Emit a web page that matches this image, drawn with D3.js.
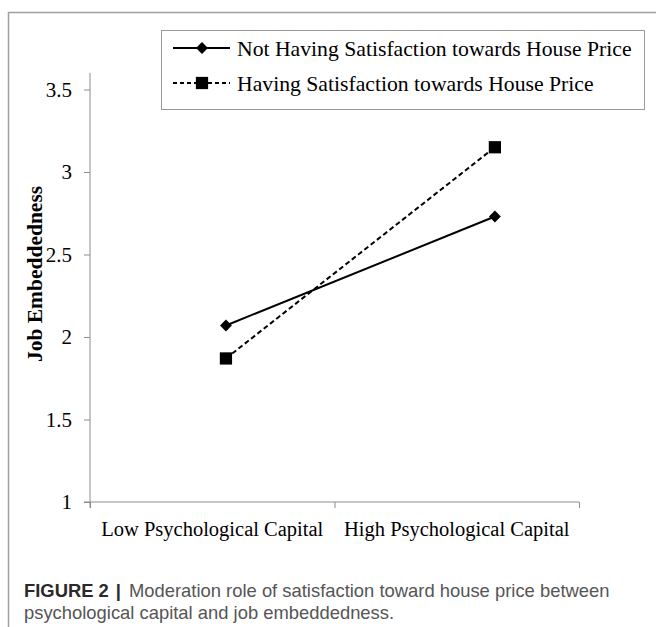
<!DOCTYPE html>
<html><head><meta charset="utf-8">
<script src="https://cdn.jsdelivr.net/npm/d3@7"></script>
<style>body{margin:0;background:#fff}svg{display:block}</style>
</head><body>
<svg id="c" width="656" height="627"></svg>
<script>
const categories = ["Low Psychological Capital", "High Psychological Capital"];
const pointX = [0.556, 1.656];          // x position of plotted points (category units)
const seriesNames = ["Not Having Satisfaction towards House Price", "Having Satisfaction towards House Price"];
const notSatisfied = [2.07, 2.73];
const satisfied = [1.87, 3.15];
const yTicks = [1, 1.5, 2, 2.5, 3, 3.5];
const yTickLabels = ["1", "1.5", "2", "2.5", "3", "3.5"];
const yTitle = "Job Embeddedness";
const captionBold = "FIGURE 2";
const captionLines = ["Moderation role of satisfaction toward house price between", "psychological capital and job embeddedness."];

const svg = d3.select("#c");
const serif = "'Liberation Serif','Times New Roman',serif";
const sans = "'Liberation Sans',Arial,sans-serif";
const axisColor = "#8c8c8c";

// frame
svg.append("path").attr("d", "M8.5,627 V12.5 H656").attr("fill", "none").attr("stroke", "#a0a0a0").attr("stroke-width", 1.5);

const x = d3.scaleLinear().domain([0, 2]).range([90, 579]);
const y = d3.scaleLinear().domain([1, 3.5]).range([502, 89.5]);

// y axis
const yAxis = d3.axisLeft(y).tickValues(yTicks).tickFormat((d, i) => yTickLabels[i]).tickSize(6).tickPadding(12);
const gy = svg.append("g").attr("transform", "translate(90,0)").call(yAxis);
gy.select(".domain").remove();
gy.append("line").attr("x1", 0).attr("x2", 0).attr("y1", y(3.6)).attr("y2", y(1) + 6).attr("stroke", axisColor);
gy.selectAll(".tick line").attr("stroke", axisColor);
gy.selectAll(".tick text").attr("font-family", serif).attr("font-size", 21).attr("fill", "#000");

// x axis
const xAxis = d3.axisBottom(x).tickValues([0, 1, 2]).tickFormat("").tickSize(6);
const gx = svg.append("g").attr("transform", "translate(0,502)").call(xAxis);
gx.select(".domain").remove();
gx.append("line").attr("x1", x(0) - 6).attr("x2", x(2)).attr("y1", 0).attr("y2", 0).attr("stroke", axisColor);
gx.selectAll(".tick line").attr("stroke", axisColor);
gx.selectAll(".cat").data(categories).enter().append("text")
  .attr("x", (d, i) => x(i + 0.5)).attr("y", 34).attr("text-anchor", "middle")
  .attr("font-family", serif).attr("font-size", 20.5).attr("fill", "#000").text(d => d);

// y title
svg.append("text").attr("transform", `translate(42,274) rotate(-90)`).attr("text-anchor", "middle")
  .attr("font-family", serif).attr("font-weight", "bold").attr("font-size", 21.5).text(yTitle);

const line = d3.line().x((d, i) => x(pointX[i])).y(d => y(d));
const diamond = d3.symbol().type(d3.symbolDiamond2).size(90);
const square = d3.symbol().type(d3.symbolSquare).size(150);

svg.append("path").datum(notSatisfied).attr("d", line).attr("fill", "none").attr("stroke", "#000").attr("stroke-width", 2);
svg.append("path").datum(satisfied).attr("d", line).attr("fill", "none").attr("stroke", "#000").attr("stroke-width", 2).attr("stroke-dasharray", "5,3");
svg.selectAll(".m1").data(notSatisfied).enter().append("path")
  .attr("transform", (d, i) => `translate(${x(pointX[i])},${y(d)})`).attr("d", diamond).attr("fill", "#000");
svg.selectAll(".m2").data(satisfied).enter().append("path")
  .attr("transform", (d, i) => `translate(${x(pointX[i])},${y(d)})`).attr("d", square).attr("fill", "#000");

// legend
const lg = svg.append("g");
lg.append("rect").attr("x", 161.5).attr("y", 30.5).attr("width", 483).attr("height", 79).attr("fill", "#fff").attr("stroke", "#999");
const ly = [48, 83];
seriesNames.forEach((name, i) => {
  lg.append("line").attr("x1", 173).attr("x2", 230).attr("y1", ly[i]).attr("y2", ly[i])
    .attr("stroke", "#000").attr("stroke-width", 2).attr("stroke-dasharray", i ? "4,3" : null);
  lg.append("path").attr("transform", `translate(202,${ly[i]})`).attr("d", i ? square : diamond).attr("fill", "#000");
  lg.append("text").attr("x", 237).attr("y", ly[i]).attr("dy", "0.35em")
    .attr("font-family", serif).attr("font-size", 21.7).text(name);
});

// caption
const cap = svg.append("text").attr("x", 24).attr("y", 597).attr("font-family", sans).attr("font-size", 18.4).attr("fill", "#555");
cap.append("tspan").attr("font-weight", "bold").attr("fill", "#2a2a2a").text(captionBold);
cap.append("tspan").attr("dx", 7).attr("font-weight", "bold").attr("fill", "#2a2a2a").text("|");
cap.append("tspan").attr("dx", 8).text(captionLines[0]);
svg.append("text").attr("x", 24).attr("y", 619).attr("font-family", sans).attr("font-size", 18.4).attr("fill", "#555").text(captionLines[1]);
</script>
</body></html>
